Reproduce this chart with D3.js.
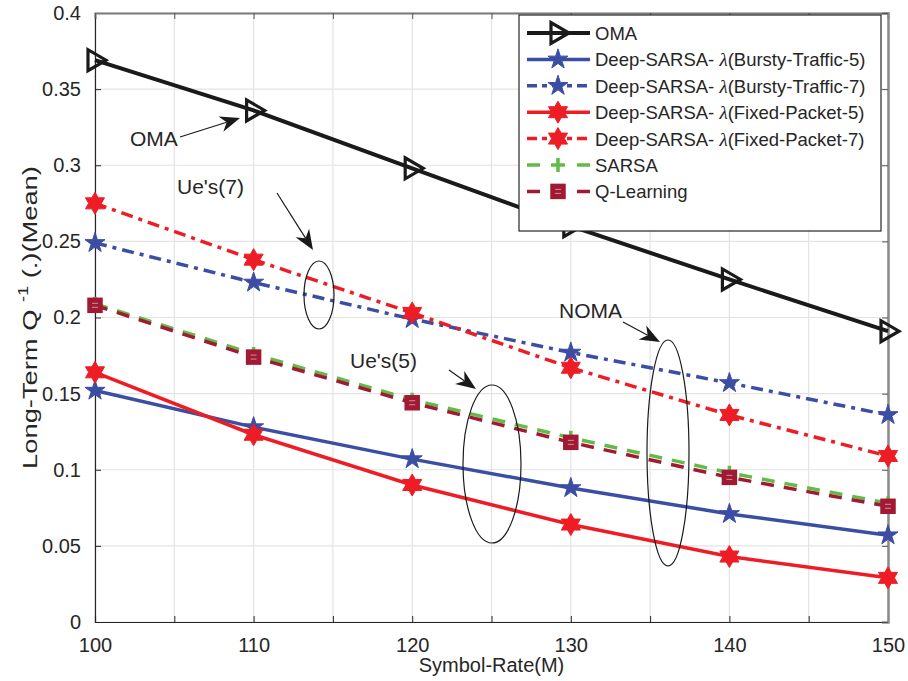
<!DOCTYPE html>
<html lang="en">
<head>
    <meta charset="UTF-8">
    <title>Long-Term Q</title>
    <style>
        body { margin: 0; background: #fff; }
        text { font-family: "Liberation Sans", Arial, sans-serif; fill: #262626; }
    </style>
</head>
<script src="https://cdn.jsdelivr.net/npm/d3@7/dist/d3.min.js"></script>
<body>
</body>
<script>
    // data
    var symbolRate = [100, 110, 120, 130, 140, 150]
    var oma = [0.369, 0.336, 0.298, 0.260, 0.225, 0.191]
    var burstyFive = [0.152, 0.128, 0.107, 0.088, 0.071, 0.057]
    var burstySeven = [0.249, 0.223, 0.199, 0.177, 0.157, 0.136]
    var fixedFive = [0.164, 0.123, 0.090, 0.064, 0.043, 0.029]
    var fixedSeven = [0.275, 0.238, 0.203, 0.167, 0.136, 0.109]
    var sarsa = [0.209, 0.176, 0.146, 0.121, 0.098, 0.078]
    var qLearning = [0.208, 0.174, 0.144, 0.118, 0.095, 0.076]
    // [prefix, lambda?, suffix]
    var seriesNames = [
        ['OMA', false, ''],
        ['Deep-SARSA- ', true, '(Bursty-Traffic-5)'],
        ['Deep-SARSA- ', true, '(Bursty-Traffic-7)'],
        ['Deep-SARSA- ', true, '(Fixed-Packet-5)'],
        ['Deep-SARSA- ', true, '(Fixed-Packet-7)'],
        ['SARSA', false, ''],
        ['Q-Learning', false, '']
    ]
    var xTicks = [100, 105, 110, 115, 120, 125, 130, 135, 140, 145, 150]
    var xTickLabels = ['100', '', '110', '', '120', '', '130', '', '140', '', '150']
    var yTicks = [0, 0.05, 0.1, 0.15, 0.2, 0.25, 0.3, 0.35, 0.4]
    var yTickLabels = ['0', '0.05', '0.1', '0.15', '0.2', '0.25', '0.3', '0.35', '0.4']

    var width = 908
        height = 681
        plot = { left: 95, right: 888, top: 13, bottom: 622 }
        svg = d3.select('body')
            .append('svg')
            .attr('width', width)
            .attr('height', height)
        xScale = d3.scaleLinear()
            .domain([100, 150])
            .range([plot.left, plot.right])
        yScale = d3.scaleLinear()
            .domain([0, 0.4])
            .range([plot.bottom, plot.top])

    var series = [
        { values: oma, color: '#1a1a1a', dash: null, marker: 'tri', lw: 4 },
        { values: burstyFive, color: '#3b4ea3', dash: null, marker: 'star', lw: 3.5 },
        { values: burstySeven, color: '#3b4ea3', dash: '12,6,4,6', marker: 'star', lw: 3.5 },
        { values: fixedFive, color: '#ee1d25', dash: null, marker: 'hex', lw: 3.5 },
        { values: fixedSeven, color: '#ee1d25', dash: '12,6,4,6', marker: 'hex', lw: 3.5 },
        { values: sarsa, color: '#63bb47', dash: '13,10', marker: 'plus', lw: 3.5 },
        { values: qLearning, color: '#a11a33', dash: '13,10', marker: 'square', lw: 3.5 }
    ]

    // grid
    svg.append('g')
        .selectAll('line')
        .data(xTicks)
        .enter()
        .append('line')
        .attr('x1', d => xScale(d)).attr('x2', d => xScale(d))
        .attr('y1', plot.top).attr('y2', plot.bottom)
        .attr('stroke', '#e3e3e3').attr('stroke-width', 1.2)
    svg.append('g')
        .selectAll('line')
        .data(yTicks)
        .enter()
        .append('line')
        .attr('y1', d => yScale(d)).attr('y2', d => yScale(d))
        .attr('x1', plot.left).attr('x2', plot.right)
        .attr('stroke', '#e3e3e3').attr('stroke-width', 1.2)

    // axes
    var xAxis = d3.axisBottom(xScale)
        .tickValues(xTicks)
        .tickSize(-6)
        .tickPadding(16)
        .tickFormat((d, i) => xTickLabels[i])
    var yAxis = d3.axisLeft(yScale)
        .tickValues(yTicks)
        .tickSize(-6)
        .tickPadding(14)
        .tickFormat((d, i) => yTickLabels[i])
    var gx = svg.append('g')
        .attr('transform', 'translate(0,' + plot.bottom + ')')
        .call(xAxis)
    var gy = svg.append('g')
        .attr('transform', 'translate(' + plot.left + ',0)')
        .call(yAxis)
    ;[gx, gy].forEach(g => {
        g.select('.domain').attr('stroke', '#262626').attr('stroke-width', 1.2)
        g.selectAll('.tick line').attr('stroke', '#262626')
        g.selectAll('.tick text')
            .style('font-family', '"Liberation Sans", Arial, sans-serif')
            .style('font-size', '20px')
            .attr('fill', '#262626')
    })
    // top and right edge with ticks
    svg.append('g')
        .attr('transform', 'translate(0,' + plot.top + ')')
        .call(d3.axisTop(xScale).tickValues(xTicks).tickSize(-6).tickFormat(''))
        .call(g => g.select('.domain').attr('stroke', '#7a7a7a').attr('stroke-width', 2))
        .call(g => g.selectAll('.tick line').attr('stroke', '#555'))
    svg.append('g')
        .attr('transform', 'translate(' + plot.right + ',0)')
        .call(d3.axisRight(yScale).tickValues(yTicks).tickSize(-6).tickFormat(''))
        .call(g => g.select('.domain').attr('stroke', '#8a8a8a').attr('stroke-width', 2.5))
        .call(g => g.selectAll('.tick line').attr('stroke', '#555'))

    // axis labels
    svg.append('text')
        .attr('x', (plot.left + plot.right) / 2)
        .attr('y', 672)
        .attr('text-anchor', 'middle')
        .style('font-size', '20px')
        .text('Symbol-Rate(M)')
    var ylab = svg.append('text')
        .attr('transform', 'translate(37,' + (plot.top + plot.bottom) / 2 + ') rotate(-90) scale(1.3,1)')
        .attr('text-anchor', 'middle')
        .style('font-size', '21px')
    ylab.append('tspan').text('Long-Term Q ')
    ylab.append('tspan').attr('dy', -9).style('font-size', '14px').text('-1')
    ylab.append('tspan').attr('dy', 9).text(' (.)(Mean)')

    // markers
    function hexPath(r) {
        var pts = []
        for (var k = 0; k < 12; k++) {
            var a = -Math.PI / 2 + k * Math.PI / 6
            var rr = k % 2 === 0 ? r : r * 0.577
            pts.push([rr * Math.cos(a), rr * Math.sin(a)])
        }
        return 'M' + pts.map(p => p.join(',')).join('L') + 'Z'
    }
    function drawMarker(g, s, x, y, legend) {
        if (s.marker === 'tri') {
            g.append('path')
                .attr('d', 'M-7,-10.5L-7,10.5L11,0Z')
                .attr('transform', 'translate(' + x + ',' + y + ')')
                .attr('fill', 'none')
                .attr('stroke', s.color).attr('stroke-width', 3.2)
                .attr('stroke-linejoin', 'miter')
        } else if (s.marker === 'star') {
            g.append('path')
                .attr('d', d3.symbol(d3.symbolStar, 125)())
                .attr('transform', 'translate(' + x + ',' + y + ')')
                .attr('fill', s.color).attr('stroke', s.color).attr('stroke-width', 1)
        } else if (s.marker === 'hex') {
            g.append('path')
                .attr('d', hexPath(11))
                .attr('transform', 'translate(' + x + ',' + y + ')')
                .attr('fill', s.color).attr('stroke', s.color).attr('stroke-width', 1)
        } else if (s.marker === 'plus') {
            g.append('path')
                .attr('d', 'M-7,0H7M0,-7V7')
                .attr('transform', 'translate(' + x + ',' + y + ')')
                .attr('stroke', s.color).attr('stroke-width', 3.5)
        } else if (s.marker === 'square') {
            g.append('rect')
                .attr('x', x - 7).attr('y', y - 7)
                .attr('width', 14).attr('height', 14)
                .attr('fill', s.color)
                .attr('stroke', s.color).attr('stroke-width', 1.5)
            g.append('path')
                .attr('d', 'M' + (x - 3) + ',' + (y - 2) + 'h6M' + (x - 3) + ',' + (y + 2) + 'h6')
                .attr('stroke', '#d98a98').attr('stroke-width', 1)
        }
    }

    // lines
    var line = d3.line()
        .x((d, i) => xScale(symbolRate[i]))
        .y(d => yScale(d))
    series.forEach(s => {
        var g = svg.append('g')
        g.append('path')
            .attr('d', line(s.values))
            .attr('fill', 'none')
            .attr('stroke', s.color)
            .attr('stroke-width', s.lw)
            .attr('stroke-dasharray', s.dash)
        s.values.forEach((v, i) => drawMarker(g, s, xScale(symbolRate[i]), yScale(v), false))
    })

    // annotations
    function arrow(x1, y1, x2, y2) {
        var a = Math.atan2(y2 - y1, x2 - x1)
        var len = 20, half = 8, back = 14
        var ca = Math.cos(a), sa = Math.sin(a)
        var bx = x2 - len * ca, by = y2 - len * sa
        var nx = x2 - back * ca, ny = y2 - back * sa
        svg.append('line')
            .attr('x1', x1).attr('y1', y1).attr('x2', nx).attr('y2', ny)
            .attr('stroke', '#1a1a1a').attr('stroke-width', 1.2)
        svg.append('path')
            .attr('d', 'M' + x2 + ',' + y2 +
                'L' + (bx - half * sa) + ',' + (by + half * ca) +
                'L' + nx + ',' + ny +
                'L' + (bx + half * sa) + ',' + (by - half * ca) + 'Z')
            .attr('fill', '#1a1a1a')
    }
    function note(x, y, t) {
        svg.append('text').attr('x', x).attr('y', y).style('font-size', '21px').text(t)
    }
    function ellipse(cx, cy, rx, ry) {
        svg.append('ellipse')
            .attr('cx', cx).attr('cy', cy).attr('rx', rx).attr('ry', ry)
            .attr('fill', 'none').attr('stroke', '#1a1a1a').attr('stroke-width', 1.2)
    }
    note(130, 146, 'OMA')
    arrow(180, 137, 240, 118)
    note(177, 194, "Ue's(7)")
    arrow(277, 193, 313, 250)
    ellipse(319, 295, 15, 34)
    note(350, 368, "Ue's(5)")
    arrow(449, 370, 476, 389)
    ellipse(492, 464, 29, 79)
    note(559, 318, 'NOMA')
    arrow(623, 322, 660, 342)
    ellipse(668, 453, 21, 113)

    // legend
    var legend = svg.append('g')
    legend.append('rect')
        .attr('x', 519).attr('y', 15)
        .attr('width', 362).attr('height', 216)
        .attr('fill', '#fff').attr('stroke', '#262626').attr('stroke-width', 1.2)
    series.forEach((s, i) => {
        var y = 33 + i * 26.4
        if (s.marker === 'plus' || s.marker === 'square') {
            legend.append('path')
                .attr('d', 'M527,' + y + 'H540M577,' + y + 'H590')
                .attr('stroke', s.color).attr('stroke-width', s.lw)
        } else {
            legend.append('line')
                .attr('x1', 527).attr('x2', 590).attr('y1', y).attr('y2', y)
                .attr('stroke', s.color).attr('stroke-width', s.lw)
                .attr('stroke-dasharray', s.dash ? '10,5,5,5' : null)
        }
        drawMarker(legend, s, 558, y, true)
        var name = seriesNames[i]
        var t = legend.append('text')
            .attr('x', 595).attr('y', y + 7)
            .style('font-size', '18.5px')
        t.append('tspan').text(name[0])
        if (name[1]) {
            t.append('tspan')
                .style('font-family', '"Liberation Serif", "DejaVu Serif", serif')
                .style('font-style', 'italic')
                .style('font-size', '19px')
                .text('λ')
        }
        t.append('tspan').text(name[2])
    })
</script>
</html>
